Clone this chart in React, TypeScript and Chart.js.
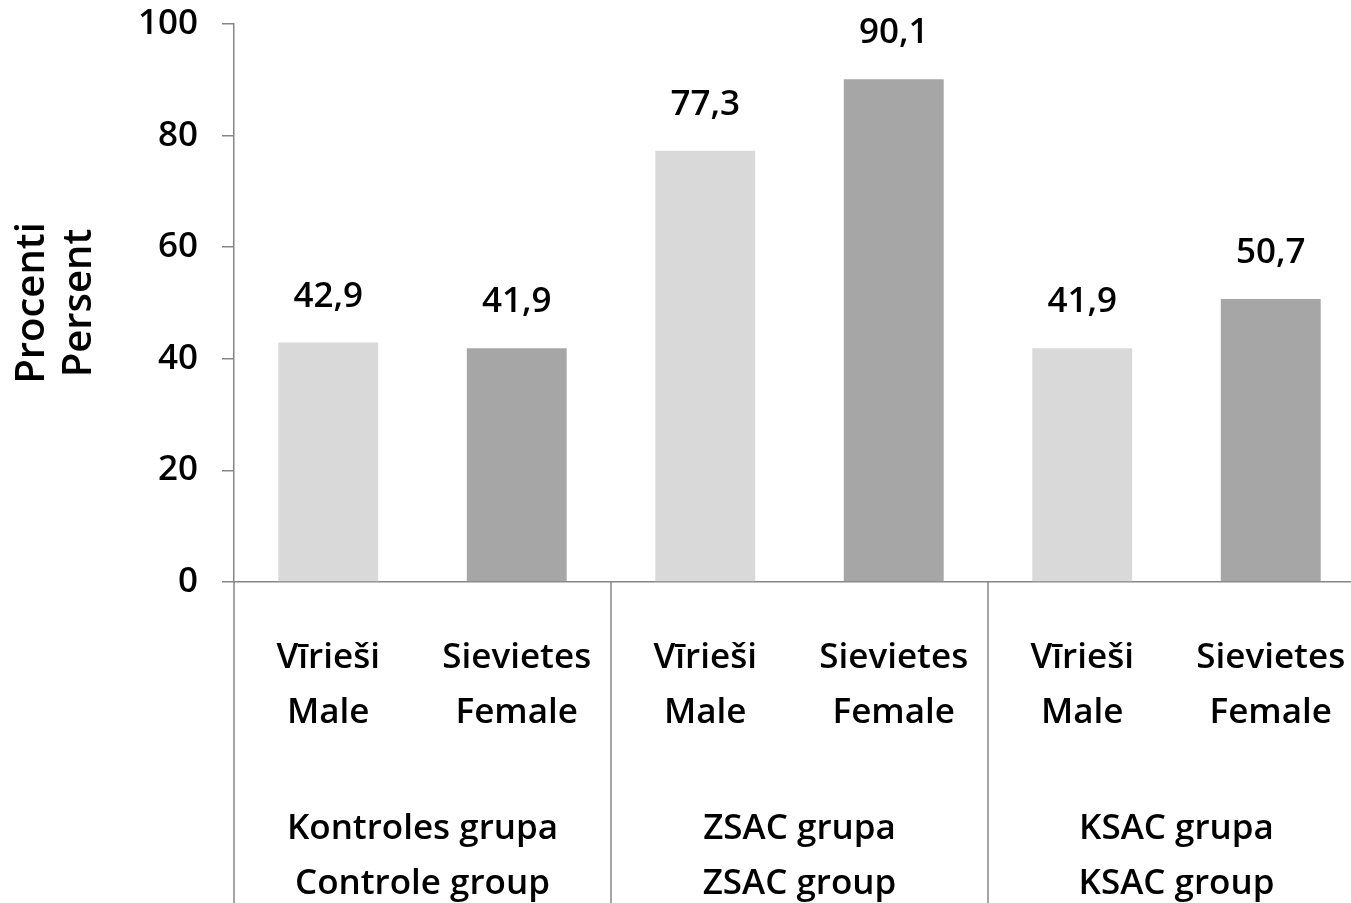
import React, { useEffect, useRef } from "react";
import { Chart, registerables } from "chart.js";

Chart.register(...registerables);

const subLabels: string[][] = [
  ["Vīrieši", "Male"],
  ["Sievietes", "Female"],
  ["Vīrieši", "Male"],
  ["Sievietes", "Female"],
  ["Vīrieši", "Male"],
  ["Sievietes", "Female"],
];
const groupLabels: string[][] = [
  ["Kontroles grupa", "Controle group"],
  ["ZSAC grupa", "ZSAC group"],
  ["KSAC grupa", "KSAC group"],
];
const values: number[] = [42.9, 41.9, 77.3, 90.1, 41.9, 50.7];
const valueLabels: string[] = ["42,9", "41,9", "77,3", "90,1", "41,9", "50,7"];
const yTitle: string[] = ["Procenti", "Persent"];
const yMin = 0;
const yMax = 100;
const yStep = 20;

const LIGHT = "#d9d9d9";
const DARK = "#a6a6a6";
const AXIS = "#868686";
const FONT_FAMILY = "'Open Sans', sans-serif";
const FONT_SIZE = 35;
const FONT_WEIGHT = "600";

const CANVAS_W = 1380;
const CANVAS_H = 925;

export default function App() {
  const ref = useRef<HTMLCanvasElement | null>(null);

  useEffect(() => {
    if (!ref.current) return;
    const font = `${FONT_WEIGHT} ${FONT_SIZE}px ${FONT_FAMILY}`;

    const overlay = {
      id: "overlay",
      afterDraw(chart: any) {
        const ctx = chart.ctx;
        const area = chart.chartArea;
        const xs = chart.scales.x;
        const ys = chart.scales.y;
        ctx.save();
        // data labels
        ctx.font = font;
        ctx.fillStyle = "#000";
        ctx.textAlign = "center";
        ctx.textBaseline = "middle";
        values.forEach((v, i) => {
          const x = xs.getPixelForValue(i);
          const y = ys.getPixelForValue(v);
          ctx.fillText(valueLabels[i], x, y - 46);
        });
        // sub labels
        subLabels.forEach((lines, i) => {
          const x = xs.getPixelForValue(i);
          lines.forEach((l, j) => ctx.fillText(l, x, 658 + j * 55));
        });
        // group labels
        groupLabels.forEach((lines, g) => {
          const x = (xs.getPixelForValue(g * 2) + xs.getPixelForValue(g * 2 + 1)) / 2;
          lines.forEach((l, j) => ctx.fillText(l, x, 829 + j * 55));
        });
        // separators
        const catW = (area.right - area.left) / subLabels.length;
        ctx.strokeStyle = AXIS;
        ctx.lineWidth = 1.5;
        for (let g = 0; g <= groupLabels.length; g++) {
          const x = area.left + g * 2 * catW;
          ctx.beginPath();
          ctx.moveTo(x, area.bottom);
          ctx.lineTo(x, chart.height);
          ctx.stroke();
        }
        // y title
        ctx.font = `${FONT_WEIGHT} 40px ${FONT_FAMILY}`;
        ctx.translate(0, (area.top + area.bottom) / 2);
        ctx.rotate(-Math.PI / 2);
        ctx.textBaseline = "alphabetic";
        ctx.fillText(yTitle[0], 0, 44);
        ctx.fillText(yTitle[1], 0, 91);
        ctx.restore();
      },
    };

    const chart = new Chart(ref.current, {
      type: "bar",
      data: {
        labels: subLabels.map((l) => l.join(" ")),
        datasets: [
          {
            data: values,
            backgroundColor: values.map((_, i) => (i % 2 === 0 ? LIGHT : DARK)),
            barPercentage: 0.53,
            categoryPercentage: 1,
          },
        ],
      },
      options: {
        animation: false,
        responsive: false,
        maintainAspectRatio: false,
        layout: { padding: { top: 24, right: CANVAS_W - 1365, left: 0, bottom: 0 } },
        plugins: { legend: { display: false }, tooltip: { enabled: false } },
        scales: {
          x: {
            ticks: { display: false },
            grid: { display: false, drawTicks: false },
            border: { display: true, color: AXIS, width: 1.5 },
            afterFit: (s: any) => {
              s.height = CANVAS_H - 582;
            },
          },
          y: {
            min: yMin,
            max: yMax,
            ticks: {
              stepSize: yStep,
              padding: 24,
              color: "#000",
              font: { family: FONT_FAMILY, size: FONT_SIZE, weight: FONT_WEIGHT as any },
            },
            grid: { drawOnChartArea: false, drawTicks: true, tickLength: 12, color: AXIS, lineWidth: 1.5 },
            border: { display: true, color: AXIS, width: 1.5 },
            afterFit: (s: any) => {
              s.width = 234;
              s.paddingTop = 0;
              s.paddingBottom = 0;
            },
          },
        },
      },
      plugins: [overlay],
    });
    return () => chart.destroy();
  }, []);

  return (
    <div style={{ position: "fixed", left: 0, top: 0, width: 1351, height: 903, overflow: "hidden", background: "#fff" }}>
      <canvas ref={ref} width={CANVAS_W} height={CANVAS_H} style={{ display: "block", width: CANVAS_W, height: CANVAS_H }} />
    </div>
  );
}
